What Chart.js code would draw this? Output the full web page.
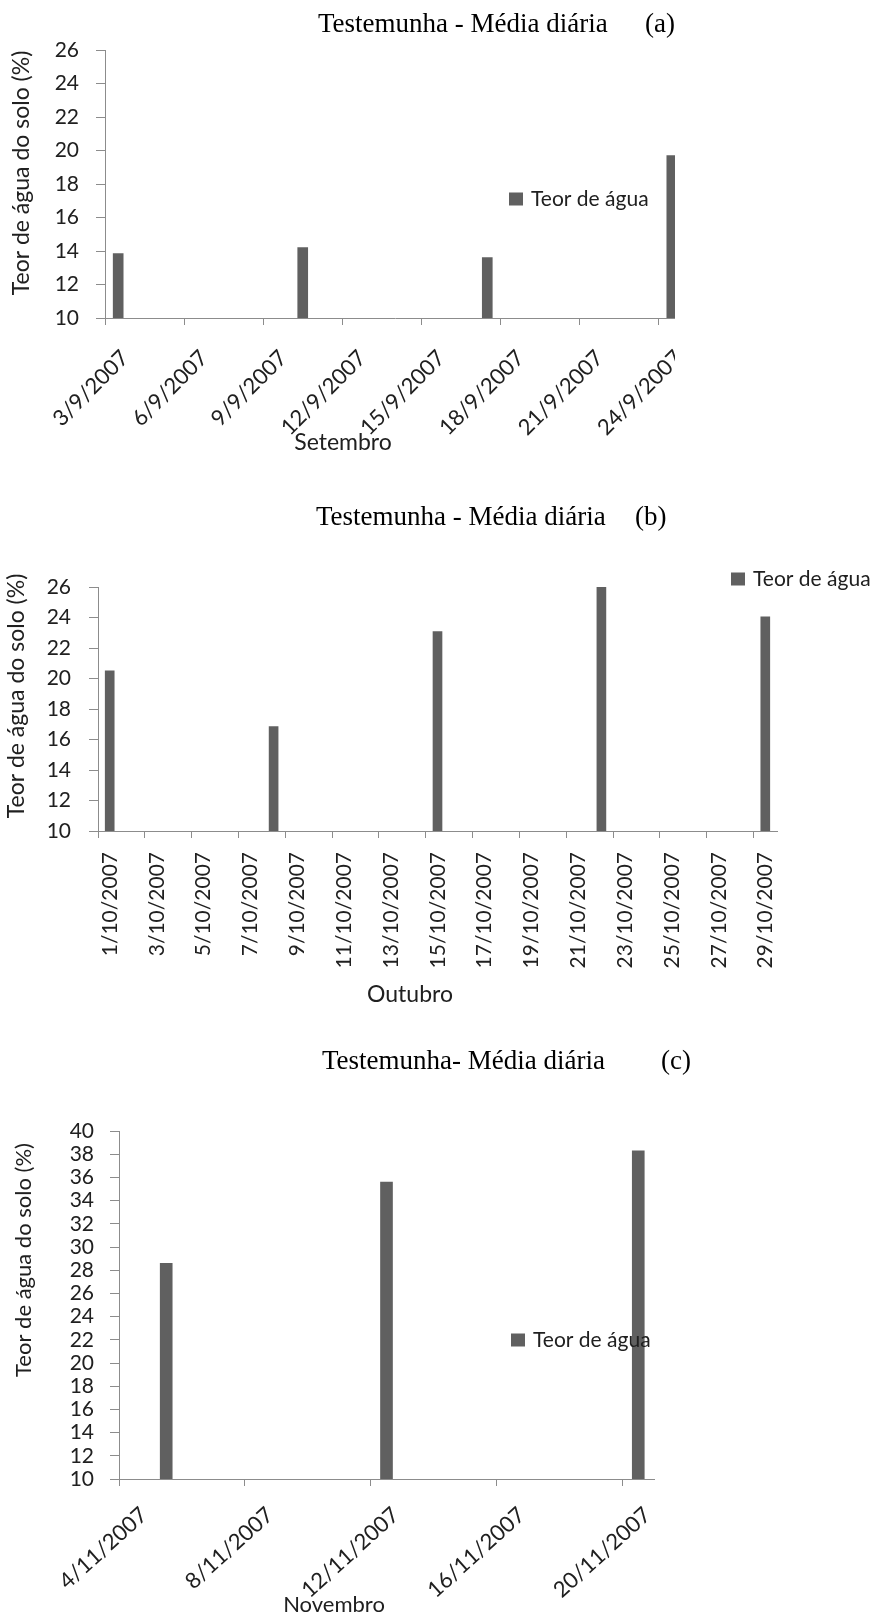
<!DOCTYPE html>
<html>
<head>
<meta charset="utf-8">
<script src="https://cdn.jsdelivr.net/npm/chart.js@4"></script>
<style>
  body { margin: 0; background: #fff; }
  #pagina { position: relative; width: 893px; height: 1614px; overflow: hidden; }
  .caixa { position: absolute; left: 0; overflow: hidden; }
</style>
</head>
<body>
<div id="pagina">
  <div class="caixa" style="top:0;width:675px;height:470px"><canvas id="graficoA" width="700" height="470"></canvas></div>
  <div class="caixa" style="top:480px;width:893px;height:560px"><canvas id="graficoB" width="893" height="560"></canvas></div>
  <div class="caixa" style="top:1040px;width:893px;height:574px"><canvas id="graficoC" width="893" height="574"></canvas></div>
</div>
<script>
// Setembro
const ticksSet = ['3/9/2007', '6/9/2007', '9/9/2007', '12/9/2007', '15/9/2007', '18/9/2007', '21/9/2007', '24/9/2007'];
const diasSet = [3, 10, 17, 24];
const teorSet = [13.85, 14.2, 13.6, 19.7];

// Outubro
const ticksOut = ['1/10/2007', '3/10/2007', '5/10/2007', '7/10/2007', '9/10/2007', '11/10/2007', '13/10/2007', '15/10/2007',
                  '17/10/2007', '19/10/2007', '21/10/2007', '23/10/2007', '25/10/2007', '27/10/2007', '29/10/2007'];
const diasOut = [1, 8, 15, 22, 29];
const teorOut = [20.5, 16.85, 23.07, 26.0, 24.05];

// Novembro
const ticksNov = ['4/11/2007', '8/11/2007', '12/11/2007', '16/11/2007', '20/11/2007'];
const diasNov = [5, 12, 20];
const teorNov = [28.6, 35.6, 38.3];

const cinza = '#8c8c8c';
const corBarra = '#606060';
const corTexto = '#202020';
const fonte = 'Lato';

// titulo, nomes dos eixos e legenda desenhados a mao
const textos = {
  id: 'textos',
  afterDraw(chart, args, o) {
    const ctx = chart.ctx;
    const ds = chart.data.datasets[0];
    ctx.save();
    ctx.textBaseline = 'middle';
    ctx.textAlign = 'left';
    ctx.fillStyle = '#000';
    ctx.font = '27px "Liberation Serif"';
    ctx.fillText(o.titulo, o.titulo_x, o.titulo_y);
    ctx.fillText(o.letra, o.letra_x, o.titulo_y);

    ctx.fillStyle = corTexto;
    ctx.font = o.fonteEixo + 'px ' + fonte;
    ctx.textAlign = 'center';
    ctx.fillText(o.eixoX, o.eixoX_x, o.eixoX_y);
    ctx.save();
    ctx.translate(o.eixoY_x, o.eixoY_y);
    ctx.rotate(-Math.PI / 2);
    ctx.fillText(o.eixoY, 0, 0);
    ctx.restore();

    // legenda
    ctx.fillStyle = ds.backgroundColor;
    ctx.fillRect(o.leg_x, o.leg_y - 6.5, 14, 13);
    ctx.fillStyle = corTexto;
    ctx.textAlign = 'left';
    ctx.font = '21px ' + fonte;
    ctx.fillText(ds.label, o.leg_x + 22, o.leg_y);
    ctx.restore();
  }
};

function grafico(id, c) {
  new Chart(document.getElementById(id), {
    type: 'bar',
    data: {
      datasets: [{
        label: 'Teor de água',
        backgroundColor: corBarra,
        borderWidth: 0,
        barThickness: c.barra,
        data: c.dias.map((d, i) => ({ x: d + 0.5, y: c.teor[i] }))   // barra no meio do dia
      }]
    },
    options: {
      responsive: false,
      animation: false,
      layout: { padding: c.padding },
      plugins: {
        legend: { display: false },
        tooltip: { enabled: false },
        textos: c.textos
      },
      scales: {
        x: {
          type: 'linear',
          min: c.xmin,
          max: c.xmax,
          offset: false,
          border: { color: cinza },
          grid: { drawOnChartArea: false, offset: false, tickLength: 7, color: cinza },
          ticks: {
            autoSkip: false,
            minRotation: c.rot,
            maxRotation: c.rot,
            labelOffset: c.labelOffset,
            padding: c.padX,
            color: corTexto,
            font: { family: fonte, size: c.fonteX },
            callback: v => c.ticks.find(t => parseInt(t) === v)
          },
          afterBuildTicks: s => { s.ticks = c.ticks.map(t => ({ value: parseInt(t) })); },
          afterFit: s => { s.height = c.alturaX; }
        },
        y: {
          min: c.ymin,
          max: c.ymax,
          border: { color: cinza },
          grid: { drawOnChartArea: false, tickLength: 9, color: cinza },
          ticks: { stepSize: 2, autoSkip: false, padding: c.padY, color: corTexto, font: { family: fonte, size: c.fonteY } },
          afterFit: s => { s.width = c.larguraY; }
        }
      }
    },
    plugins: [textos]
  });
}

grafico('graficoA', {
  dias: diasSet, teor: teorSet, ticks: ticksSet,
  xmin: 3, xmax: 25, ymin: 10, ymax: 26,
  barra: 10, rot: 45, labelOffset: 20, padX: 20, fonteX: 22, padY: 17, fonteY: 21,
  padding: { top: 50, right: 15, left: 0, bottom: 0 }, larguraY: 105, alturaX: 152,
  textos: {
    titulo: 'Testemunha - Média diária', letra: '(a)', titulo_x: 318, letra_x: 645, titulo_y: 25,
    eixoX: 'Setembro', eixoX_x: 343, eixoX_y: 443,
    eixoY: 'Teor de água do solo (%)', eixoY_x: 22, eixoY_y: 173, fonteEixo: 23,
    leg_x: 509, leg_y: 199
  }
});

grafico('graficoB', {
  dias: diasOut, teor: teorOut, ticks: ticksOut,
  xmin: 1, xmax: 30, ymin: 10, ymax: 26,
  barra: 9, rot: 90, labelOffset: 12, padX: 14, fonteX: 21, padY: 18, fonteY: 21,
  padding: { top: 107, right: 116, left: 0, bottom: 0 }, larguraY: 98, alturaX: 209,
  textos: {
    titulo: 'Testemunha - Média diária', letra: '(b)', titulo_x: 316, letra_x: 635, titulo_y: 38,
    eixoX: 'Outubro', eixoX_x: 410, eixoX_y: 515,
    eixoY: 'Teor de água do solo (%)', eixoY_x: 17, eixoY_y: 216, fonteEixo: 23,
    leg_x: 731, leg_y: 99
  }
});

grafico('graficoC', {
  dias: diasNov, teor: teorNov, ticks: ticksNov,
  xmin: 4, xmax: 21, ymin: 10, ymax: 40,
  barra: 12, rot: 42, labelOffset: 25, padX: 16, fonteX: 22, padY: 16, fonteY: 21,
  padding: { top: 91, right: 239, left: 0, bottom: 0 }, larguraY: 119, alturaX: 135,
  textos: {
    titulo: 'Testemunha- Média diária', letra: '(c)', titulo_x: 322, letra_x: 661, titulo_y: 22,
    eixoX: 'Novembro', eixoX_x: 334, eixoX_y: 565,
    eixoY: 'Teor de água do solo (%)', eixoY_x: 24, eixoY_y: 220, fonteEixo: 22,
    leg_x: 511, leg_y: 300
  }
});
</script>
</body>
</html>
